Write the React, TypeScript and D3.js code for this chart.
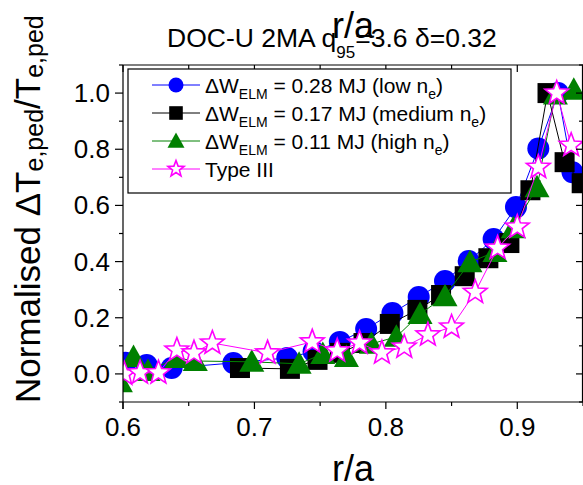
import React from "react";
import * as d3 from "d3";

const lowX = [0.602, 0.618, 0.637, 0.684, 0.725, 0.745, 0.765, 0.785, 0.805, 0.825, 0.845, 0.863, 0.882, 0.899, 0.916, 0.931, 0.942];
const lowY = [0.04, 0.032, 0.021, 0.039, 0.057, 0.08, 0.114, 0.16, 0.217, 0.274, 0.331, 0.402, 0.48, 0.594, 0.803, 1.0, 0.718];

const medX = [0.689, 0.727, 0.748, 0.765, 0.783, 0.803, 0.824, 0.842, 0.86, 0.878, 0.894, 0.91, 0.923, 0.936, 0.949];
const medY = [0.021, 0.018, 0.05, 0.075, 0.11, 0.178, 0.228, 0.281, 0.348, 0.412, 0.466, 0.654, 1.0, 0.754, 0.679];

const highX = [0.598, 0.608, 0.619, 0.641, 0.655, 0.698, 0.734, 0.752, 0.77, 0.789, 0.808, 0.826, 0.845, 0.864, 0.883, 0.897, 0.915, 0.929, 0.943];
const highY = [-0.03, 0.06, 0.01, 0.057, 0.046, 0.043, 0.036, 0.071, 0.06, 0.107, 0.132, 0.213, 0.277, 0.398, 0.434, 0.519, 0.665, 0.995, 1.012];

const t3X = [0.601, 0.613, 0.627, 0.641, 0.654, 0.668, 0.71, 0.744, 0.763, 0.78, 0.797, 0.814, 0.832, 0.85, 0.868, 0.885, 0.9, 0.916, 0.93, 0.941];
const t3Y = [0.0, 0.004, 0.004, 0.085, 0.075, 0.11, 0.075, 0.114, 0.082, 0.11, 0.075, 0.096, 0.139, 0.167, 0.291, 0.448, 0.523, 0.736, 1.0, 0.814];

const xTicks = [0.6, 0.7, 0.8, 0.9];
const xMinor = [0.65, 0.75, 0.85, 0.95];
const yTicks = [0.0, 0.2, 0.4, 0.6, 0.8, 1.0];
const yMinor = [-0.1, 0.1, 0.3, 0.5, 0.7, 0.9, 1.1];

const W = 583, H = 485;
const L = 123, R = 583, T = 65, B = 402;
const FONT = "'Liberation Sans', Arial, sans-serif";

const x = d3.scaleLinear().domain([0.6, 0.95]).range([L, R]);
const y = d3.scaleLinear().domain([-0.1, 1.1]).range([B, T]);

function starPath(r: number) {
  const pts: [number, number][] = [];
  const ri = r * 0.42;
  for (let i = 0; i < 10; i++) {
    const a = -Math.PI / 2 + (i * Math.PI) / 5;
    const rr = i % 2 === 0 ? r : ri;
    pts.push([rr * Math.cos(a), rr * Math.sin(a)]);
  }
  return d3.line()(pts) + "Z";
}

function Marker({ kind, cx, cy, s }: { kind: string; cx: number; cy: number; s: number }) {
  if (kind === "circle") return <circle cx={cx} cy={cy} r={11 * s} fill="#0000ff" />;
  if (kind === "square") return <rect x={cx - 10 * s} y={cy - 10 * s} width={20 * s} height={20 * s} fill="#000" />;
  if (kind === "tri")
    return <path d={`M${cx},${cy - 12.5 * s}L${cx + 12.5 * s},${cy + 10 * s}L${cx - 12.5 * s},${cy + 10 * s}Z`} fill="#008000" />;
  return <path d={starPath(12.5 * s)} transform={`translate(${cx},${cy})`} fill="#fff" stroke="#ff00ff" strokeWidth={1.6} />;
}

const series = [
  { xs: lowX, ys: lowY, color: "#0000ff", kind: "circle" },
  { xs: medX, ys: medY, color: "#000000", kind: "square" },
  { xs: highX, ys: highY, color: "#008000", kind: "tri" },
  { xs: t3X, ys: t3Y, color: "#ff00ff", kind: "star" },
];

const legendRows = [
  { kind: "circle", color: "#0000ff", val: "0.28", dens: "low" },
  { kind: "square", color: "#000000", val: "0.17", dens: "medium" },
  { kind: "tri", color: "#008000", val: "0.11", dens: "high" },
  { kind: "star", color: "#ff00ff", val: "", dens: "" },
];

export default function App() {
  const line = d3.line<[number, number]>().x((d) => x(d[0])).y((d) => y(d[1]));
  return (
    <svg width={W} height={H} style={{ position: "absolute", left: 0, top: 0, background: "#fff" }} fontFamily={FONT}>
      <defs>
        <clipPath id="plotclip">
          <rect x={L} y={T} width={R - L} height={B - T} />
        </clipPath>
      </defs>
      <rect x={0} y={0} width={W} height={H} fill="#fff" />
      {/* title */}
      <text x={167} y={47} fontSize={26.5} fill="#000">
        DOC-U 2MA q
        <tspan fontSize={17} dy={11}>95</tspan>
        <tspan dy={-11}>=3.6 δ=0.32</tspan>
      </text>
      <text x={(L + R) / 2} y={38} fontSize={36} textAnchor="middle" fill="#000">r/a</text>

      {/* data */}
      <g clipPath="url(#plotclip)">
        {series.map((s, i) => {
          const pts = s.xs.map((v, j) => [v, s.ys[j]] as [number, number]);
          return (
            <g key={i}>
              <path d={line(pts) || ""} fill="none" stroke={s.color} strokeWidth={1} />
              {pts.map((p, j) => (
                <Marker key={j} kind={s.kind} cx={x(p[0])} cy={y(p[1])} s={1} />
              ))}
            </g>
          );
        })}
      </g>

      {/* axes */}
      <g stroke="#000" strokeWidth={1.2} fill="none">
        <line x1={L} y1={T} x2={L} y2={B + 7} />
        <line x1={L} y1={B} x2={R} y2={B} />
        <line x1={L} y1={T} x2={R} y2={T} />
        <line x1={R - 0.5} y1={T} x2={R - 0.5} y2={B} />
        {xTicks.map((t) => (
          <g key={"xt" + t}>
            <line x1={x(t)} y1={B} x2={x(t)} y2={B + 7} />
            <line x1={x(t)} y1={T} x2={x(t)} y2={T + 7} />
          </g>
        ))}
        {xMinor.map((t) => (
          <g key={"xm" + t}>
            <line x1={x(t)} y1={B} x2={x(t)} y2={B + 4} />
            <line x1={x(t)} y1={T} x2={x(t)} y2={T + 4} />
          </g>
        ))}
        {yTicks.map((t) => (
          <g key={"yt" + t}>
            <line x1={L - 8} y1={y(t)} x2={L} y2={y(t)} />
            <line x1={R - 7} y1={y(t)} x2={R} y2={y(t)} />
          </g>
        ))}
        {yMinor.map((t) => (
          <g key={"ym" + t}>
            <line x1={L - 4} y1={y(t)} x2={L} y2={y(t)} />
            <line x1={R - 4} y1={y(t)} x2={R} y2={y(t)} />
          </g>
        ))}
      </g>
      {xTicks.map((t) => (
        <text key={"xl" + t} x={x(t)} y={436} fontSize={26} textAnchor="middle" fill="#000">
          {d3.format(".1f")(t)}
        </text>
      ))}
      {yTicks.map((t) => (
        <text key={"yl" + t} x={110} y={y(t) + 9} fontSize={26} textAnchor="end" fill="#000">
          {d3.format(".1f")(t)}
        </text>
      ))}
      <text x={(L + R) / 2} y={481} fontSize={36} textAnchor="middle" fill="#000">r/a</text>
      <text transform="translate(40,403) rotate(-90)" fontSize={35} fill="#000">
        Normalised ΔT
        <tspan fontSize={25} dy={3}>e,ped</tspan>
        <tspan dy={-3}>/T</tspan>
        <tspan fontSize={25} dy={3}>e,ped</tspan>
      </text>

      {/* legend */}
      <rect x={128} y={69} width={383} height={124} fill="#fff" stroke="#000" strokeWidth={1.2} />
      {legendRows.map((r, i) => {
        const cy = 85 + i * 28;
        return (
          <g key={"lg" + i}>
            <line x1={152} y1={cy} x2={200} y2={cy} stroke={r.color} strokeWidth={1} />
            <Marker kind={r.kind} cx={176} cy={cy} s={0.68} />
            {r.val ? (
              <text x={205} y={cy + 8} fontSize={21} fill="#000">
                ΔW
                <tspan fontSize={14} dy={6}>ELM</tspan>
                <tspan dy={-6}>{` = ${r.val} MJ (${r.dens} n`}</tspan>
                <tspan fontSize={14} dy={6}>e</tspan>
                <tspan dy={-6}>)</tspan>
              </text>
            ) : (
              <text x={205} y={cy + 8} fontSize={21} fill="#000">Type III</text>
            )}
          </g>
        );
      })}
    </svg>
  );
}
